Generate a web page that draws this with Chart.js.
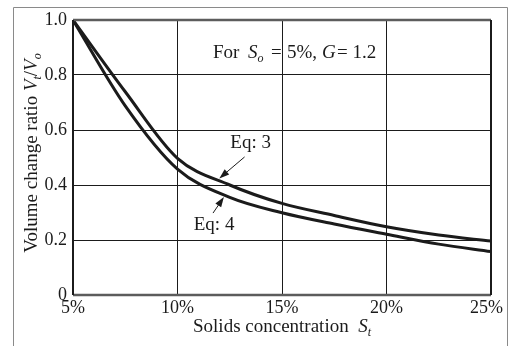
<!DOCTYPE html>
<html>
<head>
<meta charset="utf-8">
<script src="https://cdn.jsdelivr.net/npm/chart.js@4"></script>
<style>
  html, body { margin: 0; padding: 0; background: #fff; }
  #wrap { position: relative; width: 514px; height: 346px; }
</style>
</head>
<body>
<div id="wrap"><canvas id="grafico" width="514" height="346"></canvas></div>
<script>
// dados (concentração em %, razão Vt/Vo)
const concentracoes = [5, 7.5, 10, 12.5, 15, 17.5, 20, 22.5, 25];
const eq3 = [1.0, 0.739, 0.497, 0.4, 0.333, 0.289, 0.248, 0.218, 0.196];
const eq4 = [1.0, 0.688, 0.458, 0.355, 0.299, 0.258, 0.221, 0.185, 0.158];
const ticksX = [5, 10, 15, 20, 25];
const ticksY = [0, 0.2, 0.4, 0.6, 0.8, 1.0];

const SERIF = '"Liberation Serif", "Times New Roman", serif';
const PRETO = "#1b1b1b";

// desenha texto com partes em itálico / subscrito
function textoRico(ctx, partes, x, y, tam, centro) {
  const fonte = (p) => (p[1] ? "italic " : "") + (p[2] ? Math.round(tam * 0.65) : tam) + "px " + SERIF;
  let total = 0;
  partes.forEach((p) => {
    ctx.font = fonte(p);
    total += ctx.measureText(p[0]).width;
  });
  let cx = centro ? x - total / 2 : x;
  ctx.textBaseline = "alphabetic";
  ctx.textAlign = "left";
  partes.forEach((p) => {
    ctx.font = fonte(p);
    ctx.fillText(p[0], cx, p[2] ? y + tam * 0.2 : y);
    cx += ctx.measureText(p[0]).width;
  });
}

function seta(ctx, x1, y1, x2, y2) {
  const ang = Math.atan2(y2 - y1, x2 - x1);
  const comp = 10, larg = 3.5;
  ctx.beginPath();
  ctx.moveTo(x1, y1);
  ctx.lineTo(x2 - comp * 0.8 * Math.cos(ang), y2 - comp * 0.8 * Math.sin(ang));
  ctx.lineWidth = 1;
  ctx.strokeStyle = PRETO;
  ctx.stroke();
  ctx.beginPath();
  ctx.moveTo(x2, y2);
  ctx.lineTo(x2 - comp * Math.cos(ang) + larg * Math.sin(ang), y2 - comp * Math.sin(ang) - larg * Math.cos(ang));
  ctx.lineTo(x2 - comp * Math.cos(ang) - larg * Math.sin(ang), y2 - comp * Math.sin(ang) + larg * Math.cos(ang));
  ctx.closePath();
  ctx.fillStyle = PRETO;
  ctx.fill();
}

const extras = {
  id: "extras",
  beforeDraw(chart) {
    const ctx = chart.ctx;
    ctx.save();
    ctx.fillStyle = "#fff";
    ctx.fillRect(0, 0, chart.width, chart.height);
    // moldura externa
    ctx.strokeStyle = "#8a8a8a";
    ctx.lineWidth = 1;
    ctx.beginPath();
    ctx.moveTo(13.5, 346);
    ctx.lineTo(13.5, 7.5);
    ctx.lineTo(507.5, 7.5);
    ctx.lineTo(507.5, 346);
    ctx.stroke();
    ctx.restore();
  },
  afterDatasetsDraw(chart) {
    const ctx = chart.ctx;
    const a = chart.chartArea;
    const sx = chart.scales.x, sy = chart.scales.y;
    const px = (v) => sx.getPixelForValue(v);
    const py = (v) => sy.getPixelForValue(v);
    ctx.save();
    // borda da área do gráfico
    ctx.lineWidth = 2.5;
    ctx.strokeStyle = "#5c5c5c";
    ctx.beginPath();
    ctx.moveTo(a.left, a.top); ctx.lineTo(a.right, a.top);
    ctx.moveTo(a.left, a.bottom); ctx.lineTo(a.right, a.bottom);
    ctx.stroke();
    ctx.lineWidth = 2;
    ctx.strokeStyle = PRETO;
    ctx.beginPath();
    ctx.moveTo(a.left, a.top); ctx.lineTo(a.left, a.bottom);
    ctx.moveTo(a.right, a.top); ctx.lineTo(a.right, a.bottom);
    ctx.stroke();

    ctx.fillStyle = PRETO;
    // anotação "For So = 5%, G = 1.2" (o "=" fica colado à grade de 15%)
    const base = py(0.862);
    textoRico(ctx, [["For", 0, 0]], 213, base, 19, false);
    textoRico(ctx, [["S", 1, 0], ["o", 1, 1]], 248, base, 19, false);
    textoRico(ctx, [["=", 0, 0]], 271, base, 19, false);
    textoRico(ctx, [["5%,", 0, 0]], 287, base, 19, false);
    textoRico(ctx, [["G", 1, 0]], 322, base, 19, false);
    textoRico(ctx, [["= 1.2", 0, 0]], 337, base, 19, false);
    // rótulos das curvas
    ctx.font = "19px " + SERIF;
    ctx.textAlign = "center";
    ctx.textBaseline = "middle";
    ctx.fillText("Eq: 3", px(13.5), py(0.553));
    ctx.fillText("Eq: 4", px(11.75), py(0.255));
    seta(ctx, px(13.21), py(0.502), px(12.0), py(0.424));
    seta(ctx, px(11.7), py(0.298), px(12.22), py(0.356));

    // título do eixo x
    textoRico(ctx, [["Solids concentration  ", 0, 0], ["S", 1, 0], ["t", 1, 1]], (a.left + a.right) / 2, 332, 19, true);
    // título do eixo y (rotacionado)
    ctx.translate(37, 153);
    ctx.rotate(-Math.PI / 2);
    textoRico(ctx, [["Volume change ratio ", 0, 0], ["V", 1, 0], ["t", 1, 1], ["/", 0, 0], ["V", 1, 0], ["o", 1, 1]], 0, 0, 19, true);
    ctx.restore();
  },
};

new Chart(document.getElementById("grafico"), {
  type: "line",
  data: {
    datasets: [
      {
        label: "Eq: 3",
        data: concentracoes.map((c, i) => ({ x: c, y: eq3[i] })),
        borderColor: PRETO,
        borderWidth: 3,
        pointRadius: 0,
        cubicInterpolationMode: "monotone",
        fill: false,
      },
      {
        label: "Eq: 4",
        data: concentracoes.map((c, i) => ({ x: c, y: eq4[i] })),
        borderColor: PRETO,
        borderWidth: 3,
        pointRadius: 0,
        cubicInterpolationMode: "monotone",
        fill: false,
      },
    ],
  },
  options: {
    responsive: false,
    animation: false,
    devicePixelRatio: 1,
    layout: { padding: { left: 13, right: 17, top: 20, bottom: 0 } },
    plugins: { legend: { display: false }, tooltip: { enabled: false } },
    scales: {
      x: {
        type: "linear",
        min: 5,
        max: 25,
        afterBuildTicks: (s) => { s.ticks = ticksX.map((v) => ({ value: v })); },
        afterFit: (s) => { s.height = 51; },
        grid: { color: PRETO, lineWidth: 1, drawTicks: false },
        border: { display: false },
        ticks: {
          padding: 2,
          color: PRETO,
          font: { family: SERIF, size: 18 },
          // último rótulo deslocado para dentro da moldura
          callback: (v) => (v === 25 ? v + "%\u2002" : v + "%"),
          maxRotation: 0,
        },
      },
      y: {
        min: 0,
        max: 1,
        afterBuildTicks: (s) => { s.ticks = ticksY.map((v) => ({ value: v })); },
        afterFit: (s) => { s.width = 60; },
        grid: { color: PRETO, lineWidth: 1, drawTicks: false },
        border: { display: false },
        ticks: {
          padding: 6,
          color: PRETO,
          font: { family: SERIF, size: 18 },
          callback: (v) => (v === 0 ? "0" : v.toFixed(1)),
        },
      },
    },
  },
  plugins: [extras],
});
</script>
</body>
</html>
